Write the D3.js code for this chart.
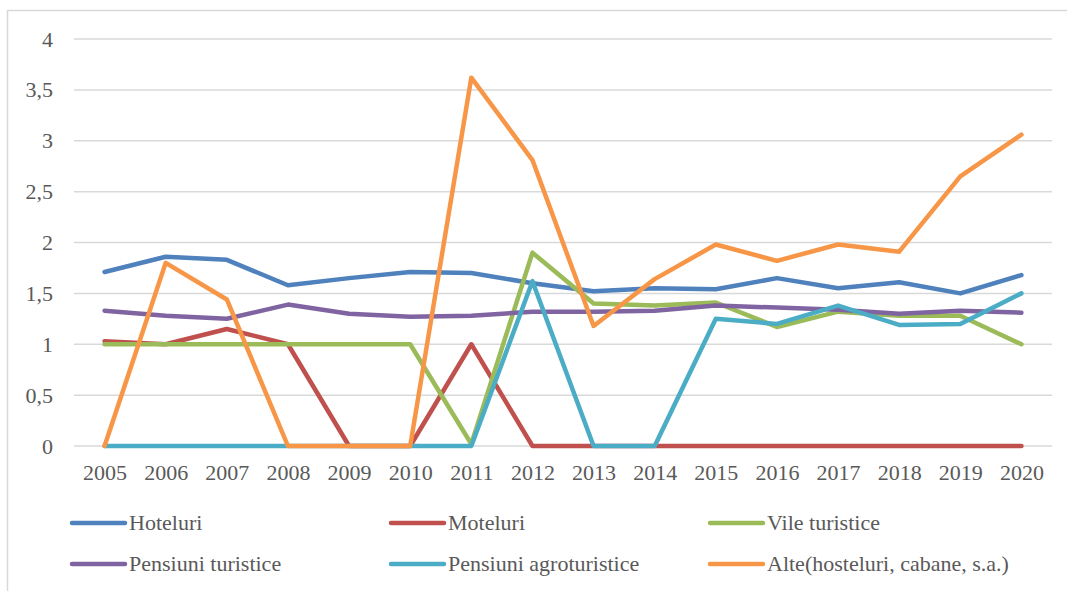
<!DOCTYPE html>
<html>
<head>
<meta charset="utf-8">
<script src="https://cdn.jsdelivr.net/npm/d3@7"></script>
</head>
<body style="margin:0;background:#fff">
<div id="wrap" style="position:relative;width:1067px;height:591px">
<svg id="chart" width="1067" height="591" style="position:absolute;left:0;top:0"></svg>
</div>
<script>
const years = ["2005","2006","2007","2008","2009","2010","2011","2012","2013","2014","2015","2016","2017","2018","2019","2020"];
const yTicks = [0, 0.5, 1, 1.5, 2, 2.5, 3, 3.5, 4];

const hoteluri      = [1.71, 1.86, 1.83, 1.58, 1.65, 1.71, 1.70, 1.60, 1.52, 1.55, 1.54, 1.65, 1.55, 1.61, 1.50, 1.68];
const moteluri      = [1.03, 1.00, 1.15, 1.00, 0, 0, 1.00, 0, 0, 0, 0, 0, 0, 0, 0, 0];
const vile          = [1.00, 1.00, 1.00, 1.00, 1.00, 1.00, 0.02, 1.90, 1.40, 1.38, 1.41, 1.17, 1.32, 1.28, 1.28, 1.00];
const pensiuni      = [1.33, 1.28, 1.25, 1.39, 1.30, 1.27, 1.28, 1.32, 1.32, 1.33, 1.38, 1.36, 1.34, 1.30, 1.33, 1.31];
const agroturistice = [0, 0, 0, 0, 0, 0, 0, 1.62, 0, 0, 1.25, 1.20, 1.38, 1.19, 1.20, 1.50];
const alte          = [0, 1.80, 1.44, 0, 0, 0, 3.62, 2.81, 1.18, 1.64, 1.98, 1.82, 1.98, 1.91, 2.65, 3.06];

const seriesNames = ["Hoteluri", "Moteluri", "Vile turistice", "Pensiuni turistice", "Pensiuni agroturistice", "Alte(hosteluri, cabane, s.a.)"];
const seriesValues = [hoteluri, moteluri, vile, pensiuni, agroturistice, alte];
const seriesColors = ["#4F81BD", "#C0504D", "#9BBB59", "#8064A2", "#4BACC6", "#F79646"];

const FONT = "Liberation Serif";

const wrap = d3.select("#wrap");
const svg = d3.select("#chart");

// outer chart border
svg.append("rect")
  .attr("x", 7.5).attr("y", 10.5)
  .attr("width", 1100).attr("height", 700)
  .attr("fill", "none").attr("stroke", "#d9d9d9").attr("stroke-width", 1.5);

const plotLeft = 74, plotRight = 1052, plotTop = 39, plotBottom = 446;

const x = d3.scalePoint().domain(years).range([plotLeft, plotRight]).padding(0.5);
const y = d3.scaleLinear().domain([0, 4]).range([plotBottom, plotTop]);

// gridlines
svg.append("g").selectAll("line").data(yTicks).join("line")
  .attr("x1", plotLeft).attr("x2", plotRight)
  .attr("y1", d => y(d)).attr("y2", d => y(d))
  .attr("stroke", "#d9d9d9").attr("stroke-width", 1.5);

// y axis labels
const yAxis = d3.axisLeft(y).tickValues(yTicks).tickSize(0).tickPadding(0)
  .tickFormat(d => String(d).replace(".", ","));
const gy = svg.append("g").attr("transform", "translate(53,0)").call(yAxis);
gy.select(".domain").remove();
gy.attr("font-family", FONT).attr("font-size", 22);
gy.selectAll("text").attr("font-family", FONT).attr("font-size", 22).attr("fill", "#595959");

// x axis labels
const xAxis = d3.axisBottom(x).tickSize(0).tickPadding(0);
const gx = svg.append("g").attr("transform", `translate(0,${plotBottom + 18})`).call(xAxis);
gx.select(".domain").remove();
gx.attr("font-family", FONT).attr("font-size", 22);
gx.selectAll("text").attr("font-family", FONT).attr("font-size", 22).attr("fill", "#595959");

// lines
const line = d3.line().x((d, i) => x(years[i])).y(d => y(d));
seriesValues.forEach((vals, k) => {
  svg.append("path")
    .datum(vals)
    .attr("d", line)
    .attr("fill", "none")
    .attr("stroke", seriesColors[k])
    .attr("stroke-width", 4.5)
    .attr("stroke-linejoin", "round")
    .attr("stroke-linecap", "round");
});

// legend: swatches in SVG, labels as HTML text
const legendCols = [72, 391, 710];
const legendRows = [523, 564];
seriesNames.forEach((name, k) => {
  const cx = legendCols[k % 3], cy = legendRows[Math.floor(k / 3)];
  svg.append("line")
    .attr("x1", cx).attr("x2", cx + 53)
    .attr("y1", cy).attr("y2", cy)
    .attr("stroke", seriesColors[k]).attr("stroke-width", 4.5)
    .attr("stroke-linecap", "round");
  wrap.append("div")
    .style("position", "absolute")
    .style("left", (cx + 57) + "px")
    .style("top", (cy - 13) + "px")
    .style("line-height", "26px")
    .style("font-family", "'Liberation Serif'")
    .style("font-size", "22px")
    .style("color", "#595959")
    .style("white-space", "nowrap")
    .text(name);
});
</script>
</body>
</html>
